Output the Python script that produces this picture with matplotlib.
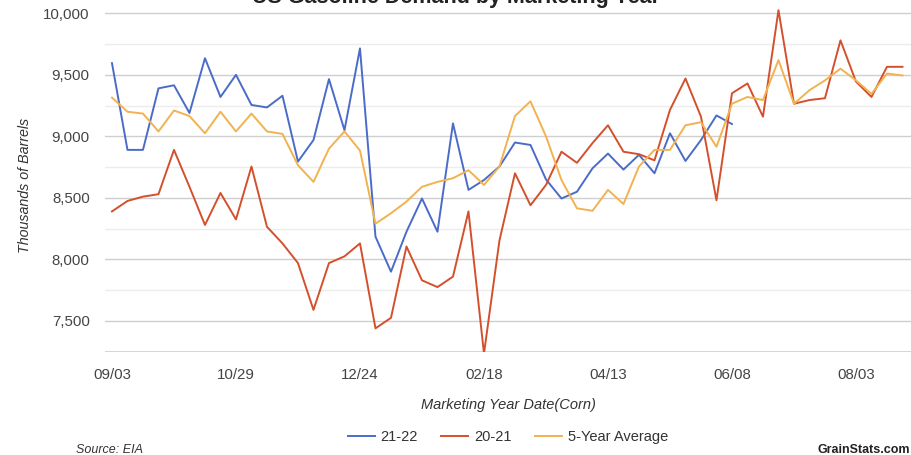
import numpy as np
import matplotlib
matplotlib.use("Agg")
import matplotlib.pyplot as plt
from matplotlib.ticker import FuncFormatter, MultipleLocator

# ---- data (thousands of barrels, weekly, marketing year starting 09/03) ----
tick_labels = ["09/03", "10/29", "12/24", "02/18", "04/13", "06/08", "08/03"]

demand_21_22 = [9595, 8890, 8890, 9390, 9415, 9190, 9635, 9320, 9500, 9255,
                9235, 9330, 8795, 8970, 9465, 9050, 9715, 8185, 7900, 8225,
                8495, 8225, 9105, 8565, 8645, 8755, 8950, 8930, 8650, 8495,
                8550, 8740, 8860, 8730, 8850, 8700, 9025, 8800, 8970, 9170,
                9100]

demand_20_21 = [8390, 8475, 8510, 8530, 8890, 8590, 8280, 8540, 8325, 8755,
                8265, 8130, 7970, 7590, 7970, 8025, 8130, 7440, 7525, 8105,
                7830, 7775, 7860, 8390, 7235, 8155, 8700, 8440, 8605, 8875,
                8785, 8945, 9090, 8875, 8855, 8805, 9215, 9470, 9160, 8480,
                9350, 9430, 9160, 10025, 9265, 9295, 9310, 9780, 9445, 9320,
                9565, 9565]

demand_5yr = [9315, 9200, 9185, 9040, 9210, 9165, 9025, 9200, 9040, 9185,
              9040, 9020, 8765, 8630, 8900, 9040, 8885, 8290, 8375, 8470,
              8590, 8630, 8660, 8725, 8605, 8755, 9165, 9285, 9000, 8645,
              8415, 8395, 8565, 8450, 8755, 8890, 8890, 9090, 9115, 8915,
              9265, 9320, 9295, 9620, 9265, 9375, 9455, 9550, 9455, 9345,
              9510, 9495]

series_names = ["21-22", "20-21", "5-Year Average"]
series_colors = ["#4a6cc8", "#d4502c", "#f2b24f"]

FONT = "Liberation Sans"
plt.rcParams["font.family"] = [FONT, "DejaVu Sans"]

W, H = 911, 455
fig = plt.figure(figsize=(W / 100, H / 100), dpi=100)
fig.patch.set_facecolor("white")

ax_left, ax_right = 105, 911
ax_top, ax_bot = 0, 351.7
ax = fig.add_axes([ax_left / W, 1 - ax_bot / H, (ax_right - ax_left) / W, (ax_bot - ax_top) / H])
ax.set_facecolor("white")

n = len(demand_5yr)

for vals, name, col in zip([demand_21_22, demand_20_21, demand_5yr], series_names, series_colors):
    ax.plot(np.arange(len(vals)), vals, color=col, lw=1.4, label=name, zorder=3)

ax.set_xlim(-0.45, 51.55)
ax.set_ylim(7250, 10108)

ax.yaxis.set_major_locator(MultipleLocator(500))
ax.yaxis.set_minor_locator(MultipleLocator(250))
ax.yaxis.set_major_formatter(FuncFormatter(lambda v, p: f"{int(v):,}"))
ax.grid(True, axis="y", which="major", color="#cfcfcf", lw=1.0, zorder=0)
ax.grid(True, axis="y", which="minor", color="#ececec", lw=1.0, zorder=0)
ax.axhline(7250, color="#c8c8c8", lw=1.2, zorder=1)

ax.set_xticks(np.arange(0, n, 8))
ax.set_xticklabels(tick_labels)

for s in ax.spines.values():
    s.set_visible(False)
ax.tick_params(axis="both", which="both", length=0, labelsize=10.8, colors="#444444")
ax.tick_params(axis="y", pad=11)
ax.tick_params(axis="x", pad=12)

# texts
fig.text(456 / W, 1 - 3 / H, "US Gasoline Demand by Marketing Year", ha="center", va="baseline",
         fontsize=15.5, fontweight="bold", color="#222222")
fig.text(25 / W, 1 - 185 / H, "Thousands of Barrels", rotation=90, ha="center", va="center",
         fontsize=10.3, style="italic", color="#333333")
fig.text(508 / W, 1 - 405 / H, "Marketing Year Date(Corn)", ha="center", va="center",
         fontsize=10.5, style="italic", color="#333333")
fig.text(76 / W, 1 - 450 / H, "Source: EIA", ha="left", va="center",
         fontsize=9, style="italic", color="#333333")
fig.text(818 / W, 1 - 450 / H, "GrainStats.com", ha="left", va="center",
         fontsize=9, fontweight="bold", color="#222222")

leg = ax.legend(loc="center", bbox_to_anchor=(508 / W, 1 - 437 / H), bbox_transform=fig.transFigure,
                ncol=3, frameon=False, fontsize=10.5, handlelength=1.85, handletextpad=0.4,
                columnspacing=1.6)
for t in leg.get_texts():
    t.set_color("#333333")

fig.savefig("out.png", dpi=100, facecolor="white")
